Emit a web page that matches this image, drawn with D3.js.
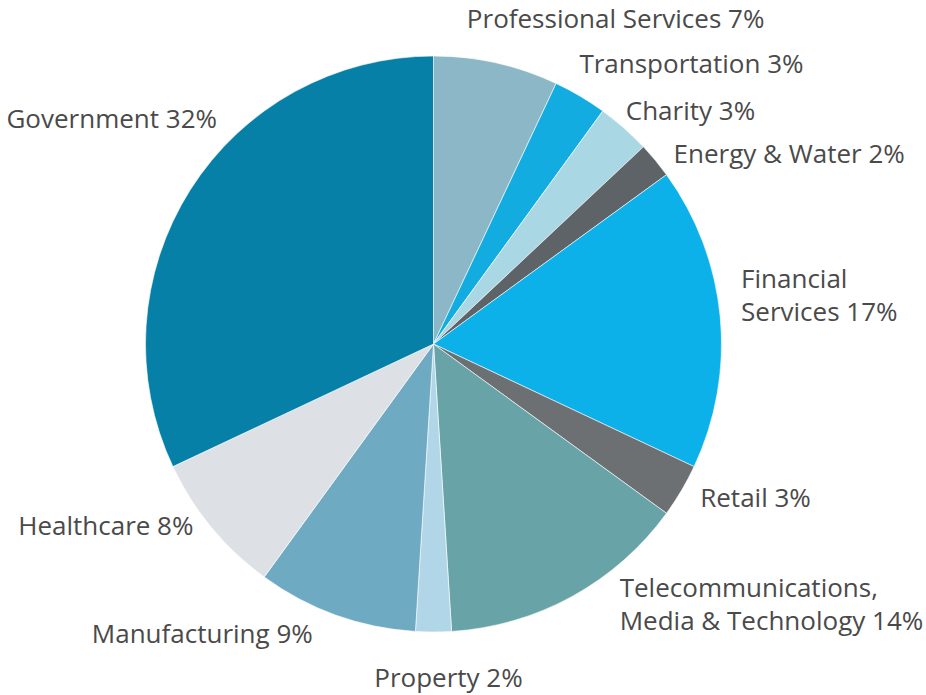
<!DOCTYPE html>
<html>
<head>
<meta charset="utf-8">
<script src="https://cdn.jsdelivr.net/npm/d3@7"></script>
<style>
  html, body { margin: 0; padding: 0; background: #ffffff; }
  svg { display: block; }
  text { font-family: "Open Sans", "Noto Sans", sans-serif; fill: #4a4a4a; }
</style>
</head>
<body>
<svg id="chart" width="926" height="695"></svg>
<script>
// Sectors, clockwise from 12 o'clock
const sectors = [
  "Professional Services", "Transportation", "Charity", "Energy & Water",
  "Financial Services", "Retail", "Telecommunications, Media & Technology",
  "Property", "Manufacturing", "Healthcare", "Government"
];
const shares = [7, 3, 3, 2, 17, 3, 14, 2, 9, 8, 32];

// Label text, one entry per line
const labelLines = [
  ["Professional Services 7%"],
  ["Transportation 3%"],
  ["Charity 3%"],
  ["Energy & Water 2%"],
  ["Financial", "Services 17%"],
  ["Retail 3%"],
  ["Telecommunications,", "Media & Technology 14%"],
  ["Property 2%"],
  ["Manufacturing 9%"],
  ["Healthcare 8%"],
  ["Government 32%"]
];

const sectorColors = [
  "#8cb7c7", "#12ace0", "#a9d8e4", "#5e6367", "#0db1ea", "#6c7073",
  "#67a3a7", "#b1d6e7", "#6eaac2", "#dde0e4", "#0780a7"
];

// Label placement: anchor and offset from a point just outside the rim
const labelAnchor = ["start", "start", "start", "start", "start", "start",
                     "start", "middle", "end", "end", "end"];
const labelNudge = [
  [-36, -6], [-16, 3], [-18, 15], [-5, 22], [-9, -26], [-7, 1],
  [33, -26], [15, 25], [-13, 0], [5, -12], [52, -46]
];

const cx = 433.5, cy = 344, R = 288;
const fontSize = 26, lineGap = 33;

const svg = d3.select("#chart");
const g = svg.append("g").attr("transform", `translate(${cx},${cy})`);

const data = sectors.map((s, i) => ({ sector: s, value: shares[i], i }));

const pie = d3.pie().value(d => d.value).sort(null);
const arcs = pie(data);
const arc = d3.arc().innerRadius(0).outerRadius(R);

const color = d3.scaleOrdinal().domain(sectors).range(sectorColors);

g.selectAll("path.slice")
  .data(arcs)
  .join("path")
  .attr("class", "slice")
  .attr("d", arc)
  .attr("fill", d => color(d.data.sector))
  .attr("stroke", "#ffffff")
  .attr("stroke-opacity", 0.6)
  .attr("stroke-width", 1);

// Labels sit near the rim at each slice's mid angle
const rimArc = d3.arc().innerRadius(R + 30).outerRadius(R + 30);

const labels = g.selectAll("text.label")
  .data(arcs)
  .join("text")
  .attr("class", "label")
  .attr("font-size", fontSize)
  .attr("text-anchor", d => labelAnchor[d.data.i])
  .attr("transform", d => {
    const [x, y] = rimArc.centroid(d);
    const [dx, dy] = labelNudge[d.data.i];
    return `translate(${x + dx},${y + dy})`;
  });

labels.selectAll("tspan")
  .data(d => labelLines[d.data.i])
  .join("tspan")
  .attr("x", 0)
  .attr("y", (t, k) => k * lineGap)
  .text(t => t);
</script>
</body>
</html>
